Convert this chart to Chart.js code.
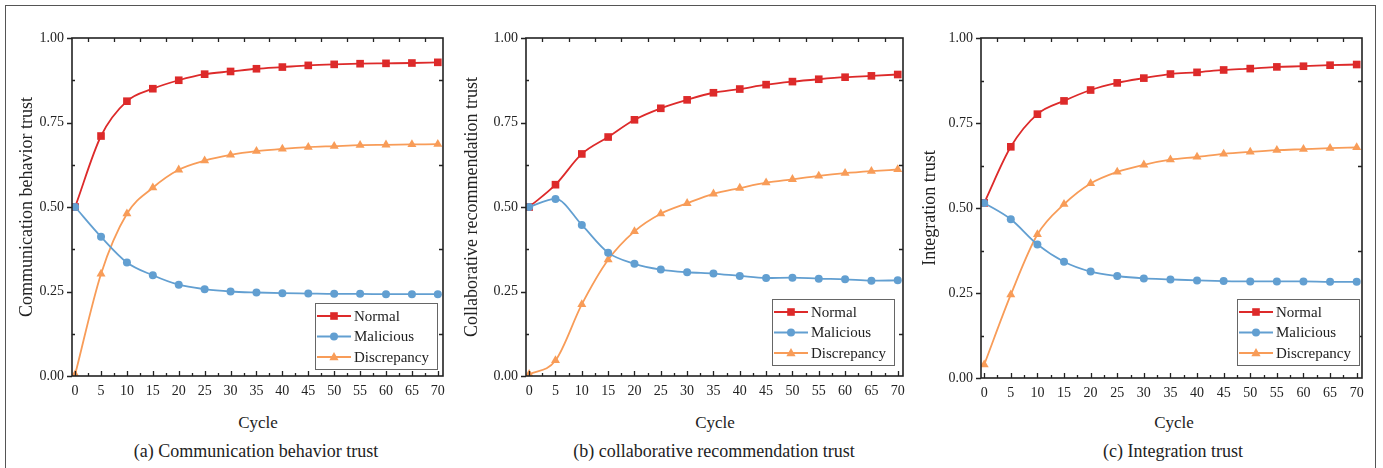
<!DOCTYPE html>
<html>
<head>
<meta charset="utf-8">
<script src="https://cdn.jsdelivr.net/npm/chart.js@4.4.1/dist/chart.umd.min.js"></script>
<style>
  body { margin: 0; width: 1383px; height: 468px; overflow: hidden; position: relative; background: #fff;
         font-family: "Liberation Serif", "Times New Roman", serif; color: #222; }
  .frame { position: absolute; left: 5px; top: 5px; width: 1371px; height: 475px; border: 1.5px solid #555; box-sizing: border-box; }
  canvas { position: absolute; top: 0; }
  .lbl { position: absolute; transform: translate(-50%, -50%); white-space: nowrap; }
  .cycle { font-size: 17px; }
  .cap { font-size: 18px; }
</style>
</head>
<body>
<div class="frame"></div>
<canvas id="chart-a" width="455" height="410" style="left:0"></canvas>
<canvas id="chart-b" width="460" height="410" style="left:455px"></canvas>
<canvas id="chart-c" width="468" height="410" style="left:915px"></canvas>

<div class="lbl cycle" style="left:258px;top:423px">Cycle</div>
<div class="lbl cycle" style="left:715px;top:423px">Cycle</div>
<div class="lbl cycle" style="left:1174px;top:423px">Cycle</div>
<div class="lbl cap" style="left:256px;top:451px">(a) Communication behavior trust</div>
<div class="lbl cap" style="left:714px;top:451px">(b) collaborative recommendation trust</div>
<div class="lbl cap" style="left:1173px;top:451px">(c) Integration trust</div>

<script>
// simulation cycles (markers every 5 cycles)
const cycles = [0, 5, 10, 15, 20, 25, 30, 35, 40, 45, 50, 55, 60, 65, 70];
const yTickValues = [0, 0.25, 0.5, 0.75, 1];
const seriesNames = ["Normal", "Malicious", "Discrepancy"];

// (a) communication behavior trust
const normalA      = [0.500, 0.710, 0.813, 0.850, 0.875, 0.893, 0.901, 0.909, 0.914, 0.919, 0.922, 0.924, 0.925, 0.926, 0.928];
const maliciousA   = [0.500, 0.412, 0.336, 0.298, 0.270, 0.257, 0.250, 0.247, 0.245, 0.244, 0.243, 0.243, 0.242, 0.242, 0.242];
const discrepancyA = [0.004, 0.302, 0.480, 0.557, 0.610, 0.637, 0.654, 0.665, 0.672, 0.677, 0.680, 0.683, 0.684, 0.685, 0.686];

// (b) collaborative recommendation trust
const normalB      = [0.500, 0.566, 0.657, 0.707, 0.758, 0.792, 0.817, 0.838, 0.849, 0.862, 0.871, 0.878, 0.884, 0.888, 0.892];
const maliciousB   = [0.500, 0.524, 0.447, 0.365, 0.332, 0.315, 0.307, 0.303, 0.296, 0.290, 0.291, 0.288, 0.286, 0.282, 0.283];
const discrepancyB = [0.005, 0.046, 0.212, 0.344, 0.428, 0.480, 0.511, 0.539, 0.556, 0.572, 0.582, 0.592, 0.600, 0.606, 0.611];

// (c) integration trust
const normalC      = [0.515, 0.680, 0.776, 0.815, 0.847, 0.868, 0.882, 0.894, 0.899, 0.906, 0.910, 0.915, 0.917, 0.920, 0.922];
const maliciousC   = [0.515, 0.467, 0.393, 0.342, 0.313, 0.300, 0.293, 0.290, 0.287, 0.285, 0.284, 0.284, 0.284, 0.283, 0.283];
const discrepancyC = [0.039, 0.245, 0.422, 0.511, 0.572, 0.606, 0.627, 0.642, 0.650, 0.659, 0.665, 0.670, 0.673, 0.676, 0.678];

const RED = "#dd2a2a", BLUE = "#629fd1", ORANGE = "#f89c58";
const SERIF = "'Liberation Serif', 'Times New Roman', serif";

/* Origin-style frame: boxed plot area, inward minor ticks, outward major y ticks. */
const axisMarks = {
  id: "axisMarks",
  afterDraw(chart) {
    const { ctx, chartArea: a, scales: { x, y } } = chart;
    ctx.save();
    ctx.strokeStyle = "#222";
    ctx.lineWidth = 1.3;
    ctx.beginPath();
    for (let v = 0; v <= 70; v += 2.5) {            // bottom, pointing in
      const px = Math.round(x.getPixelForValue(v)) + 0.5;
      ctx.moveTo(px, a.bottom); ctx.lineTo(px, a.bottom - (v % 5 === 0 ? 5 : 3));
    }
    for (let v = 2.5; v < 70; v += 5) {              // top, pointing in
      const px = Math.round(x.getPixelForValue(v)) + 0.5;
      ctx.moveTo(px, a.top); ctx.lineTo(px, a.top + 4);
    }
    yTickValues.forEach((v) => {                     // left majors, pointing out
      const py = Math.round(y.getPixelForValue(v)) + 0.5;
      ctx.moveTo(a.left, py); ctx.lineTo(a.left - 5, py);
    });
    for (let v = 0.125; v < 1; v += 0.25) {          // minors on both sides
      const py = Math.round(y.getPixelForValue(v)) + 0.5;
      ctx.moveTo(a.left, py); ctx.lineTo(a.left + 3, py);
      ctx.moveTo(a.right, py); ctx.lineTo(a.right - 4, py);
    }
    ctx.stroke();
    ctx.lineWidth = 1.6;
    ctx.strokeRect(a.left, a.top, a.right - a.left, a.bottom - a.top);
    ctx.restore();
  },
};

/* Boxed legend tucked into the lower-right corner of the plot. */
function drawMarker(ctx, style, x, y, color) {
  ctx.fillStyle = color;
  ctx.beginPath();
  if (style === "rect") ctx.rect(x - 3.8, y - 3.8, 7.6, 7.6);
  else if (style === "circle") ctx.arc(x, y, 4, 0, Math.PI * 2);
  else { ctx.moveTo(x, y - 5); ctx.lineTo(x + 4.6, y + 3.2); ctx.lineTo(x - 4.6, y + 3.2); ctx.closePath(); }
  ctx.fill();
}

const boxLegend = {
  id: "boxLegend",
  afterDraw(chart, args, opts) {
    const { ctx, chartArea: a } = chart;
    const w = 122, h = 66;
    const left = a.right - opts.right - w, top = a.bottom - opts.bottom - h;
    ctx.save();
    ctx.fillStyle = "#fff";
    ctx.fillRect(left, top, w, h);
    ctx.strokeStyle = "#666";
    ctx.lineWidth = 1;
    ctx.strokeRect(left + 0.5, top + 0.5, w, h);
    ctx.font = "15px " + SERIF;
    ctx.textBaseline = "middle";
    seriesNames.forEach((name, i) => {
      const ds = chart.data.datasets.find((d) => d.label === name);
      const cy = top + 13 + i * 20.5;
      ctx.strokeStyle = ds.borderColor;
      ctx.lineWidth = 1.8;
      ctx.beginPath(); ctx.moveTo(left + 2, cy); ctx.lineTo(left + 36, cy); ctx.stroke();
      drawMarker(ctx, ds.pointStyle, left + 19, cy, ds.borderColor);
      ctx.fillStyle = "#222";
      ctx.fillText(name, left + 39, cy + 1);
    });
    ctx.restore();
  },
};

function series(label, values, color, pointStyle, radius, order) {
  return {
    label, order, pointStyle,
    data: cycles.map((c, i) => ({ x: c, y: values[i] })),
    borderColor: color, backgroundColor: color,
    borderWidth: 1.8, pointRadius: radius, pointBorderWidth: 0,
    cubicInterpolationMode: "monotone",
  };
}

function makeChart(id, [normal, malicious, discrepancy], yTitle, lay) {
  const tickFont = { family: SERIF, size: 14 };
  return new Chart(document.getElementById(id), {
    type: "line",
    data: {
      datasets: [
        series("Normal", normal, RED, "rect", 5.4, 3),
        series("Malicious", malicious, BLUE, "circle", 4, 1),
        series("Discrepancy", discrepancy, ORANGE, "triangle", 5.2, 2),
      ],
    },
    options: {
      responsive: false,
      animation: false,
      layout: { padding: { left: lay.padLeft, right: lay.padRight, top: 38, bottom: 0 } },
      plugins: { legend: { display: false }, tooltip: { enabled: false }, boxLegend: lay.legend },
      scales: {
        x: {
          type: "linear", min: -0.6, max: 71,
          afterBuildTicks: (s) => { s.ticks = cycles.map((v) => ({ value: v })); },
          afterFit: (s) => { s.height = lay.xHeight; },
          grid: { display: false, drawTicks: false }, border: { display: false },
          ticks: { font: tickFont, color: "#222", padding: 7, maxRotation: 0, autoSkip: false, callback: (v) => String(v) },
        },
        y: {
          min: 0, max: 1,
          afterBuildTicks: (s) => { s.ticks = yTickValues.map((v) => ({ value: v })); },
          afterFit: (s) => { s.width = lay.yWidth; },
          grid: { display: false, drawTicks: false }, border: { display: false },
          ticks: { font: tickFont, color: "#222", padding: 8, callback: (v) => v.toFixed(2) },
          title: { display: true, text: yTitle, color: "#222", padding: 0, font: { family: SERIF, size: 18 } },
        },
      },
    },
    plugins: [axisMarks, boxLegend],
  });
}

makeChart("chart-a", [normalA, maliciousA, discrepancyA], "Communication behavior trust",
  { padLeft: 16, yWidth: 56, padRight: 12, xHeight: 34, legend: { right: 6, bottom: 7 } });
makeChart("chart-b", [normalB, maliciousB, discrepancyB], "Collaborative recommendation trust",
  { padLeft: 6, yWidth: 65, padRight: 12, xHeight: 34, legend: { right: 9, bottom: 11 } });
makeChart("chart-c", [normalC, maliciousC, discrepancyC], "Integration trust",
  { padLeft: 4, yWidth: 62, padRight: 21, xHeight: 32, legend: { right: 3, bottom: 13 } });
</script>
</body>
</html>
